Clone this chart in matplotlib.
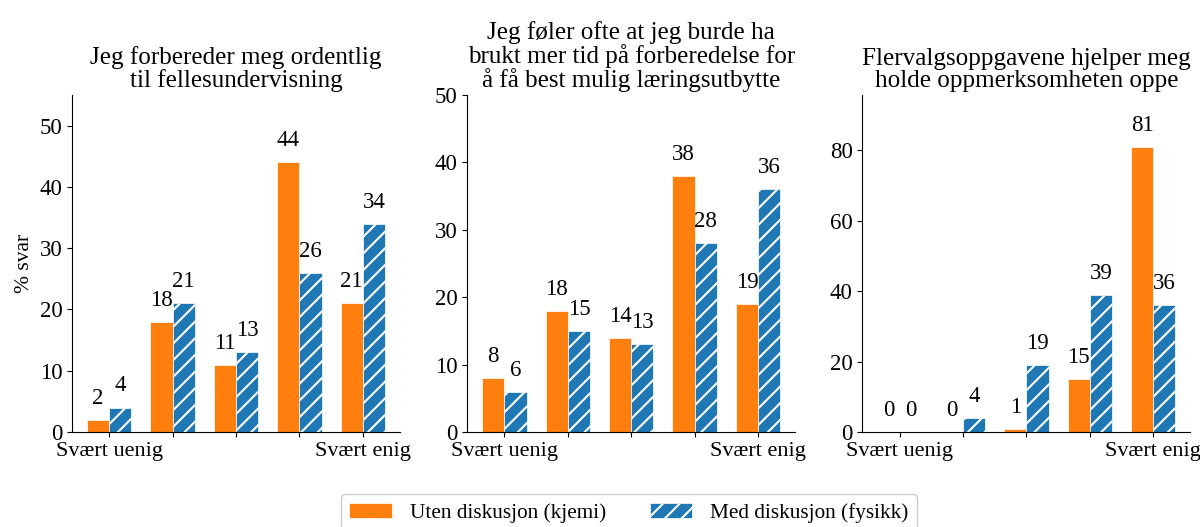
import numpy as np
import matplotlib
matplotlib.use('Agg')
import matplotlib.pyplot as plt

plt.rcParams['font.family'] = 'serif'
plt.rcParams['font.serif'] = ['Liberation Serif', 'DejaVu Serif']
plt.rcParams['hatch.linewidth'] = 1.5
plt.rcParams['hatch.color'] = 'white'

titler = [
    'Jeg forbereder meg ordentlig\ntil fellesundervisning',
    'Jeg føler ofte at jeg burde ha\nbrukt mer tid på forberedelse for\nå få best mulig læringsutbytte',
    'Flervalgsoppgavene hjelper meg\nholde oppmerksomheten oppe',
]
uten_diskusjon = [
    [2, 18, 11, 44, 21],
    [8, 18, 14, 38, 19],
    [0, 0, 1, 15, 81],
]
med_diskusjon = [
    [4, 21, 13, 26, 34],
    [6, 15, 13, 28, 36],
    [0, 4, 19, 39, 36],
]
tick_labels = ['Svært uenig', '', '', '', 'Svært enig']
y_max = [55, 50, 95.7]
y_ticks = [np.arange(0, 51, 10), np.arange(0, 51, 10), np.arange(0, 81, 20)]

oransje = '#ff7f0e'
blaa = '#1f77b4'
bredde = 0.35

fig, axes = plt.subplots(1, 3, figsize=(12, 5.27), dpi=100)
fig.subplots_adjust(left=0.06, right=0.992, bottom=0.18, top=0.82, wspace=0.205)

x = np.arange(5)
for i, ax in enumerate(axes):
    b1 = ax.bar(x - bredde / 2, uten_diskusjon[i], bredde, color=oransje,
                edgecolor='white', linewidth=0.5, label='Uten diskusjon (kjemi)')
    b2 = ax.bar(x + bredde / 2, med_diskusjon[i], bredde, color=blaa,
                edgecolor='white', linewidth=0.5, hatch='//', label='Med diskusjon (fysikk)')
    ax.bar_label(b1, padding=8, fontsize=16.5)
    ax.bar_label(b2, padding=8, fontsize=16.5)
    ax.set_xticks(x, tick_labels, fontsize=16)
    ax.set_yticks(y_ticks[i])
    ax.tick_params(axis='y', labelsize=16.5)
    ax.set_ylim(0, y_max[i])
    ax.set_title(titler[i], fontsize=18.1, linespacing=1.0)
    ax.spines['top'].set_visible(False)
    ax.spines['right'].set_visible(False)

axes[0].set_ylabel('% svar', fontsize=15.5)

handles, labels = axes[0].get_legend_handles_labels()
fig.legend(handles, labels, loc='upper center', bbox_to_anchor=(0.524, 0.082),
           ncol=2, fontsize=15.3, columnspacing=2.05, handlelength=2.0,
           handletextpad=0.85, fancybox=True, framealpha=1)

fig.savefig('out.png', dpi=100)
